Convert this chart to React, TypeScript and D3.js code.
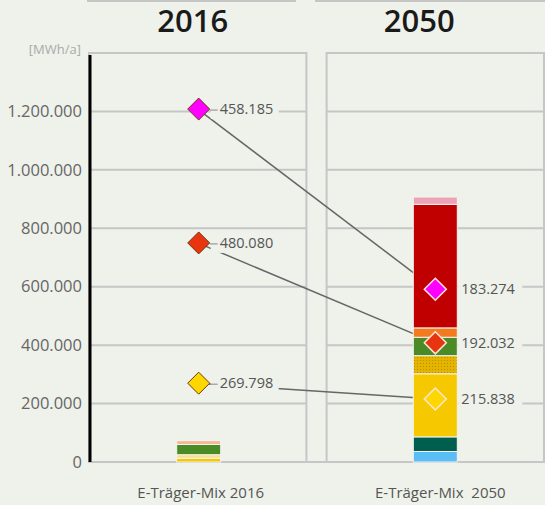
import React from "react";
import * as d3 from "d3";

const years = ["2016", "2050"];
const xLabels = ["E-Träger-Mix 2016", "E-Träger-Mix  2050"];
const yTicks = [0, 200000, 400000, 600000, 800000, 1000000, 1200000];

// stacked energy mix, bottom to top
const mix2016 = [
  { key: "gelb", value: 13000, color: "#f6c800" },
  { key: "hellgelb", value: 12000, color: "#f7df8c" },
  { key: "gruen", value: 35000, color: "#4b8b26" },
  { key: "lachs", value: 13000, color: "#f2b796" },
];
const mix2050 = [
  { key: "hellblau", value: 36000, color: "#5bbdf5" },
  { key: "petrol", value: 50000, color: "#005e4e" },
  { key: "gelb", value: 216000, color: "#f6c800" },
  { key: "gelb-muster", value: 62000, color: "url(#dots)" },
  { key: "gruen", value: 63000, color: "#4b8b26" },
  { key: "orange", value: 32000, color: "#f47a20" },
  { key: "rot", value: 423000, color: "#c00000" },
  { key: "rosa", value: 25000, color: "#eba3b5" },
];

// marker values (stacked on each other)
const markerColors = ["#ffd700", "#e8350f", "#ff00ff"];
const markers2016 = [269798, 480080, 458185];
const markers2050 = [215838, 192032, 183274];

const fmt = d3.formatLocale({ decimal: ",", thousands: ".", grouping: [3], currency: ["", "€"] }).format(",d");

const W = 545;
const H = 505;
const bg = "#eef2eb";

export default function App() {
  const x = d3.scaleBand().domain(years).range([89, 544]).paddingInner(0.085);
  const y = d3.scaleLinear().domain([0, 1400000]).range([462, 53]);
  const bw = x.bandwidth();
  const barW = 44;

  const stack = (arr: { value: number }[]) => {
    let acc = 0;
    return arr.map((d) => {
      const y0 = acc;
      acc += d.value;
      return [y0, acc];
    });
  };
  const cum = (arr: number[]) => {
    let acc = 0;
    return arr.map((v) => (acc += v));
  };
  const c16 = cum(markers2016);
  const c50 = cum(markers2050);
  const cx16 = x("2016")! + bw / 2;
  const cx50 = x("2050")! + bw / 2;
  const diamond = (cx: number, cy: number, r: number) =>
    `M${cx},${cy - r}L${cx + r},${cy}L${cx},${cy + r}L${cx - r},${cy}Z`;

  const bars = [mix2016, mix2050];
  const titleShift = [-5, -16];

  return (
    <svg width={W} height={H} style={{ position: "fixed", left: 0, top: 0, background: bg }} fontFamily="'Open Sans', sans-serif">
      <defs>
        <pattern id="dots" width="3" height="3" patternUnits="userSpaceOnUse">
          <rect width="3" height="3" fill="#e4b400" />
          <rect width="1" height="1" fill="#b88f00" />
        </pattern>
      </defs>
      <rect width={W} height={H} fill={bg} />
      {/* header lines */}
      <line x1={87} x2={296} y1={1} y2={1} stroke="#c6c6c6" strokeWidth={2} />
      <line x1={315} x2={W} y1={1} y2={1} stroke="#c6c6c6" strokeWidth={2} />
      {years.map((yr, i) => (
        <text key={yr} x={x(yr)! + bw / 2 + titleShift[i]} y={32} textAnchor="middle" fontSize={31} fontWeight={600} fill="#1a1a1a">
          {yr}
        </text>
      ))}
      {/* panels and grid */}
      {years.map((yr) => (
        <g key={yr}>
          <rect x={x(yr)} y={y(1400000)} width={bw} height={y(0) - y(1400000)} fill="none" stroke="#c6c6c6" strokeWidth={2} />
          {yTicks.slice(1).map((t) => (
            <line key={t} x1={x(yr)} x2={x(yr)! + bw} y1={y(t)} y2={y(t)} stroke="#c6c6c6" strokeWidth={2} />
          ))}
        </g>
      ))}
      <line x1={90} x2={W} y1={y(0)} y2={y(0)} stroke="#c6c6c6" strokeWidth={2} />
      {/* y axis */}
      <line x1={90} x2={90} y1={55} y2={y(0)} stroke="#000" strokeWidth={3} />
      <text x={81} y={54} textAnchor="end" fontSize={13} fill="#aaaaaa">[MWh/a]</text>
      {yTicks.map((t) => (
        <text key={t} x={82} y={y(t)} dy="0.35em" textAnchor="end" fontSize={16.5} fill="#666">
          {fmt(t)}
        </text>
      ))}
      {/* connectors */}
      {c16.map((v, i) => (
        <line key={i} x1={cx16} y1={y(v)} x2={cx50} y2={y(c50[i])} stroke="#666" strokeWidth={1.5} />
      ))}
      {/* bars */}
      {bars.map((arr, bi) => {
        const st = stack(arr);
        const cx = bi === 0 ? cx16 + 1 : cx50;
        return (
          <g key={bi}>
            {arr.map((d, i) => (
              <rect
                key={d.key}
                x={cx - barW / 2}
                y={y(st[i][1])}
                width={barW}
                height={y(st[i][0]) - y(st[i][1])}
                fill={d.color}
                stroke="#f4f4f0"
                strokeWidth={1}
              />
            ))}
          </g>
        );
      })}
      {/* markers 2016 */}
      {c16.map((v, i) => (
        <g key={i}>
          <rect x={cx16 + 13} y={y(v) - 10} width={68} height={20} fill={bg} />
          <path d={diamond(cx16 + 1, y(v), 11)} fill={markerColors[i]} stroke="#6b3a10" strokeWidth={1} />
          <line x1={cx16 + 12} x2={cx16 + 20} y1={y(v) + 1} y2={y(v) + 1} stroke="#888" strokeWidth={1} />
          <text x={cx16 + 22} y={y(v)} dy="0.35em" fontSize={14.5} fill="#555">{fmt(markers2016[i])}</text>
        </g>
      ))}
      {/* markers 2050 */}
      {c50.map((v, i) => (
        <g key={i}>
          <rect x={cx50 + barW / 2 + 1} y={y(v) - 10} width={64} height={20} fill={bg} />
          <path d={diamond(cx50, y(v), 11)} fill={markerColors[i]} stroke="#ffe6d8" strokeWidth={1.5} />
          <text x={cx50 + 26} y={y(v)} dy="0.35em" fontSize={14.5} fill="#555">{fmt(markers2050[i])}</text>
        </g>
      ))}
      {/* x labels */}
      {years.map((yr, i) => (
        <text key={yr} x={x(yr)! + bw / 2 + 3 + i * 2} y={498} textAnchor="middle" fontSize={15} fill="#555" style={{ whiteSpace: "pre" }}>
          {xLabels[i]}
        </text>
      ))}
    </svg>
  );
}
